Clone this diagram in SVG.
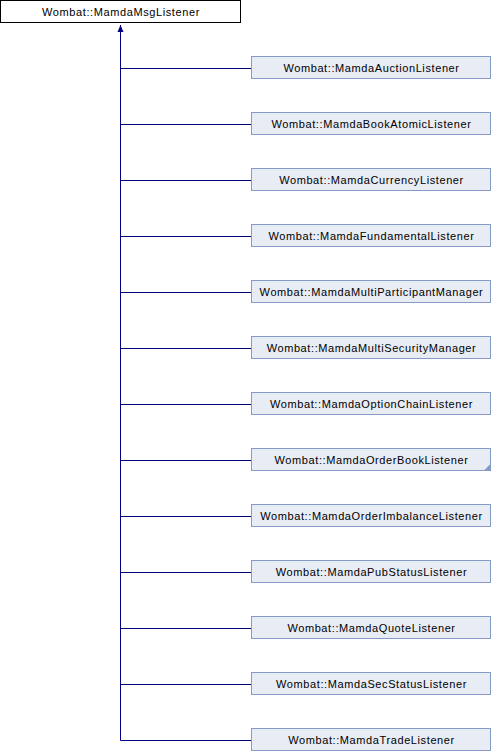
<svg xmlns="http://www.w3.org/2000/svg" width="492" height="752" viewBox="0 0 492 752">
<defs>
<style>
.n rect{fill:#e8ecf5;stroke:#8499c4;stroke-width:1}
.r rect{fill:#ffffff;stroke:#000000;stroke-width:1}
text{font-family:"Liberation Sans",Arial,sans-serif;font-size:11px;letter-spacing:0.6px;fill:#000;text-anchor:middle}
.e{stroke:#000080;stroke-width:1;fill:none}
</style>
<marker id="a" markerWidth="8" markerHeight="8" refX="7" refY="4" orient="auto" markerUnits="userSpaceOnUse" viewBox="0 0 8 8">
<path d="M0,1 L7,4 L0,7 Z" fill="#000080"/>
</marker>
</defs>
<rect width="492" height="752" fill="#fff"/>
<g id="edges">
<path class="e" d="M120.5,740.5 V25" marker-end="url(#a)"/>
<path class="e" d="M120.5,68.5 H251 M120.5,124.5 H251 M120.5,180.5 H251 M120.5,236.5 H251 M120.5,292.5 H251 M120.5,348.5 H251 M120.5,404.5 H251 M120.5,460.5 H251 M120.5,516.5 H251 M120.5,572.5 H251 M120.5,628.5 H251 M120.5,684.5 H251 M120.5,740.5 H251"/>
</g>
<g id="root" class="r"><rect x="0.5" y="0.5" width="240" height="22"/><text x="121" y="16">Wombat::MamdaMsgListener</text></g>
<g id="n1" class="n"><rect x="251.5" y="56.5" width="239" height="22"/><text x="371.5" y="72">Wombat::MamdaAuctionListener</text></g>
<g id="n2" class="n"><rect x="251.5" y="112.5" width="239" height="22"/><text x="371.5" y="128">Wombat::MamdaBookAtomicListener</text></g>
<g id="n3" class="n"><rect x="251.5" y="168.5" width="239" height="22"/><text x="371.5" y="184">Wombat::MamdaCurrencyListener</text></g>
<g id="n4" class="n"><rect x="251.5" y="224.5" width="239" height="22"/><text x="371.5" y="240">Wombat::MamdaFundamentalListener</text></g>
<g id="n5" class="n"><rect x="251.5" y="280.5" width="239" height="22"/><text x="371.5" y="296">Wombat::MamdaMultiParticipantManager</text></g>
<g id="n6" class="n"><rect x="251.5" y="336.5" width="239" height="22"/><text x="371.5" y="352">Wombat::MamdaMultiSecurityManager</text></g>
<g id="n7" class="n"><rect x="251.5" y="392.5" width="239" height="22"/><text x="371.5" y="408">Wombat::MamdaOptionChainListener</text></g>
<g id="n8" class="n"><rect x="251.5" y="448.5" width="239" height="22"/><text x="371.5" y="464">Wombat::MamdaOrderBookListener</text><path d="M490.5,464 V470.5 H484 Z" fill="#8499c4"/></g>
<g id="n9" class="n"><rect x="251.5" y="504.5" width="239" height="22"/><text x="371.5" y="520">Wombat::MamdaOrderImbalanceListener</text></g>
<g id="n10" class="n"><rect x="251.5" y="560.5" width="239" height="22"/><text x="371.5" y="576">Wombat::MamdaPubStatusListener</text></g>
<g id="n11" class="n"><rect x="251.5" y="616.5" width="239" height="22"/><text x="371.5" y="632">Wombat::MamdaQuoteListener</text></g>
<g id="n12" class="n"><rect x="251.5" y="672.5" width="239" height="22"/><text x="371.5" y="688">Wombat::MamdaSecStatusListener</text></g>
<g id="n13" class="n"><rect x="251.5" y="728.5" width="239" height="22"/><text x="371.5" y="744">Wombat::MamdaTradeListener</text></g>
</svg>
